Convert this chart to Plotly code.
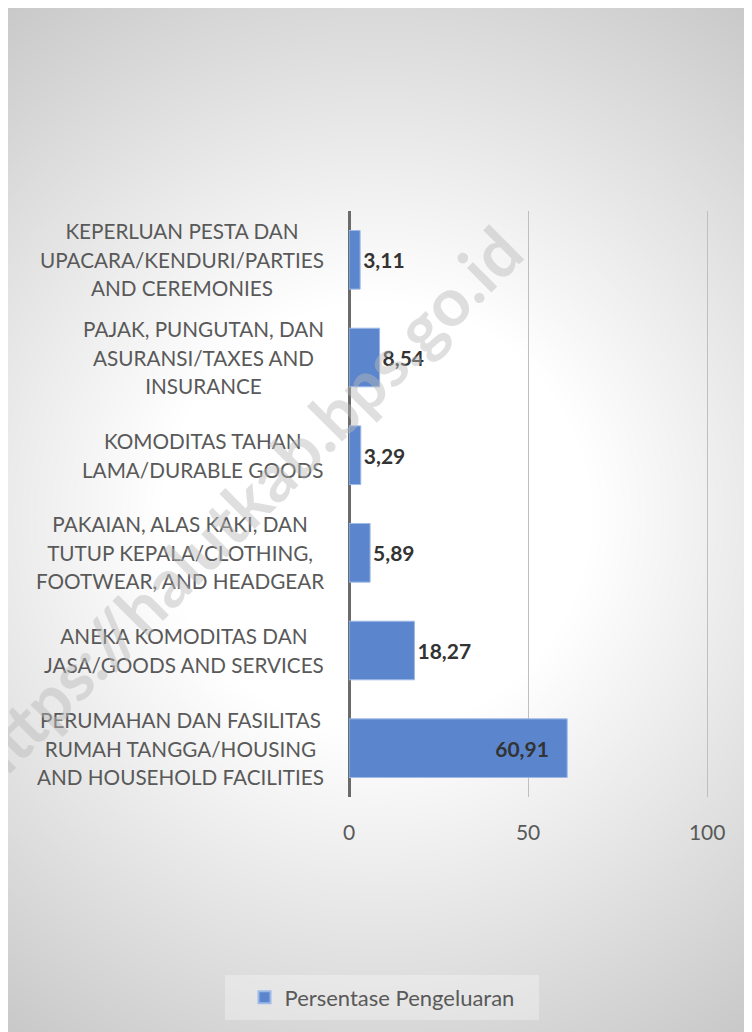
import numpy as np, zlib, struct, base64
import plotly.graph_objects as go

# ---------------- data ----------------
categories = [
    "KEPERLUAN PESTA DAN|UPACARA/KENDURI/PARTIES|AND CEREMONIES",
    "PAJAK, PUNGUTAN, DAN|ASURANSI/TAXES AND|INSURANCE",
    "KOMODITAS TAHAN|LAMA/DURABLE GOODS",
    "PAKAIAN, ALAS KAKI, DAN|TUTUP KEPALA/CLOTHING,|FOOTWEAR, AND HEADGEAR",
    "ANEKA KOMODITAS DAN|JASA/GOODS AND SERVICES",
    "PERUMAHAN DAN FASILITAS|RUMAH TANGGA/HOUSING|AND HOUSEHOLD FACILITIES",
]
values = [3.11, 8.54, 3.29, 5.89, 18.27, 60.91]
value_labels = ["3,11", "8,54", "3,29", "5,89", "18,27", "60,91"]
series_name = "Persentase Pengeluaran"
x_ticks = [0, 50, 100]
watermark = "https://halutkab.bps.go.id"

# ---------------- layout geometry (reference pixel coords, page has 8px body margin) ----------------
OFF = 8
W, H = 752 - OFF, 1032 - OFF
L, T, B = 349 - OFF, 211 - OFF, 797 - OFF
XMAX = 100.5
R = L + int(round(XMAX * 3.58))
pw, ph = R - L, B - T

def px(xr):
    return (xr - OFF - L) / pw

def py(yr):
    return (B - (yr - OFF)) / ph

# radial gradient background image
yy, xx = np.mgrid[0:H, 0:W]
r = np.hypot(xx + OFF - 376, yy + OFF - 516)
v = 255 - 0.13 * np.clip(r - 216, 0, None)
img = np.clip(v, 0, 255).astype(np.uint8)
raw = b"".join(b"\x00" + img[i].tobytes() for i in range(H))

def chunk(t, d):
    return struct.pack(">I", len(d)) + t + d + struct.pack(">I", zlib.crc32(t + d) & 0xFFFFFFFF)

png = (b"\x89PNG\r\n\x1a\n"
       + chunk(b"IHDR", struct.pack(">IIBBBBB", W, H, 8, 0, 0, 0, 0))
       + chunk(b"IDAT", zlib.compress(raw, 9))
       + chunk(b"IEND", b""))
bg_uri = "data:image/png;base64," + base64.b64encode(png).decode()

FONT = "Lato"
GRAY = "#595959"
BAR = "#5B86CD"

positions = ["outside"] * (len(values) - 1) + ["inside"]
bar_text = [t + ("\u00a0" * 3 if p == "inside" else "") for t, p in zip(value_labels, positions)]
lbl_font = dict(family=FONT, size=21, color="#333333", weight="bold")

fig = go.Figure()
fig.add_trace(go.Bar(
    x=values, y=categories, orientation="h", name=series_name,
    marker=dict(color=BAR, line=dict(color="#9DB9E6", width=1)),
    text=bar_text, textposition=positions, insidetextanchor="end",
    textfont=lbl_font, insidetextfont=lbl_font, outsidetextfont=lbl_font,
    constraintext="none", cliponaxis=False, hoverinfo="skip",
))

annotations = []
for cat in categories:
    lines = cat.split("|")
    txt = "<br>".join(f"<span style='font-size:20.7px'>{ln}</span>" for ln in lines)
    annotations.append(dict(
        x=0, xref="paper", y=cat, yref="y", xanchor="right", yanchor="middle",
        xshift=-23, align="center", showarrow=False, text=txt,
        font=dict(family=FONT, size=22, color=GRAY),
    ))

annotations.append(dict(
    x=px(241), y=py(506), xref="paper", yref="paper", xanchor="center", yanchor="middle",
    showarrow=False, text=watermark, textangle=-45,
    font=dict(family=FONT, size=67, color="rgba(185,185,185,0.45)", weight="bold"),
))

fig.update_layout(
    width=W, height=H,
    margin=dict(l=L, r=W - R, t=T, b=H - B, pad=0),
    paper_bgcolor="white", plot_bgcolor="rgba(0,0,0,0)",
    bargap=0.4, showlegend=True,
    xaxis=dict(range=[0, XMAX], tickvals=x_ticks, ticktext=[str(t) for t in x_ticks],
               showgrid=True, gridcolor="#BFBFBF", gridwidth=1,
               zeroline=True, zerolinecolor="#6B6B6B", zerolinewidth=3,
               showline=False, ticks="outside", ticklen=17, tickcolor="rgba(0,0,0,0)",
               tickfont=dict(family=FONT, size=21, color=GRAY), fixedrange=True),
    yaxis=dict(autorange="reversed", showticklabels=False, showgrid=False,
               zeroline=False, showline=False, fixedrange=True),
    legend=dict(orientation="h", x=px(382), xanchor="center", y=py(997.5), yanchor="middle",
                bgcolor="rgba(0,0,0,0)", borderwidth=0,
                font=dict(family=FONT, size=22, color=GRAY),
                itemsizing="constant"),
    annotations=annotations,
    images=[dict(source=bg_uri, xref="paper", yref="paper", x=px(OFF), y=py(OFF),
                 sizex=W / pw, sizey=H / ph, sizing="stretch", layer="below",
                 xanchor="left", yanchor="top")],
    shapes=[
        dict(type="rect", xref="paper", yref="paper", x0=px(225), x1=px(539), y0=py(975), y1=py(1020),
             fillcolor="rgba(255,255,255,0.3)", line=dict(width=0), layer="below"),
    ],
)

fig.write_html("out.html")
